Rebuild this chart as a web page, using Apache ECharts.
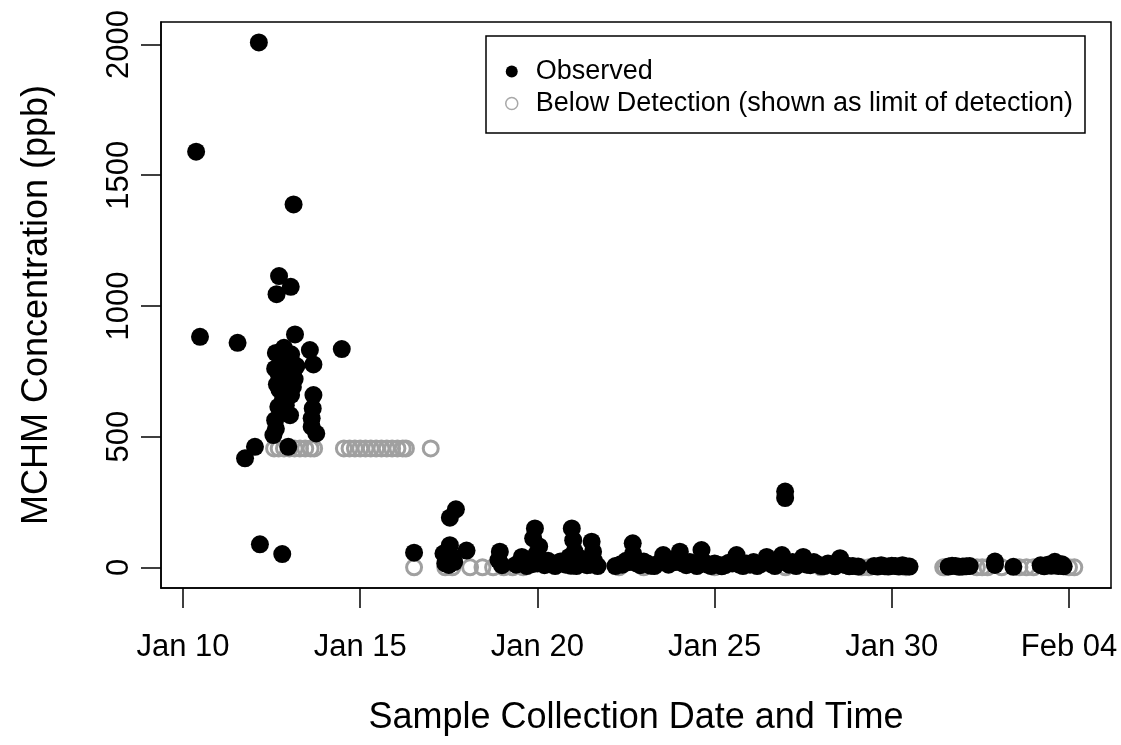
<!DOCTYPE html>
<html>
<head>
<meta charset="utf-8">
<script src="https://cdn.jsdelivr.net/npm/echarts@6.0.0/dist/echarts.min.js"></script>
<style>
  html, body { margin: 0; padding: 0; background: #fff; }
  #chart { width: 1121px; height: 745px; }
</style>
</head>
<body>
<div id="chart"></div>
<script>
// x = day of January 2014 (Feb 04 = 35), y = ppb
const tickDays = [10, 15, 20, 25, 30, 35];
const tickLabels = ['Jan 10', 'Jan 15', 'Jan 20', 'Jan 25', 'Jan 30', 'Feb 04'];
const yTicks = [0, 500, 1000, 1500, 2000];

// observed, first days
const observedEarly = [
  [10.37, 1590], [10.48, 882], [11.54, 859], [11.75, 417], [12.03, 461], [12.14, 2008],
  [12.17, 88], [12.8, 51], [12.71, 1114], [13.04, 1073], [12.64, 1045], [13.12, 1388],
  [13.16, 891], [14.48, 835], [13.58, 831], [13.68, 776],
  [12.62, 820], [12.75, 800], [12.85, 840], [12.95, 790], [12.6, 760], [12.7, 740],
  [12.8, 720], [12.9, 760], [13.0, 780], [13.1, 740], [13.2, 770], [12.65, 700],
  [12.85, 680], [13.0, 700], [13.1, 690], [12.95, 650], [12.78, 770], [12.88, 805],
  [13.05, 815], [12.72, 680], [12.92, 720], [13.15, 720], [13.05, 660], [12.82, 640],
  [12.69, 614], [13.02, 582], [12.6, 563], [12.55, 506], [12.97, 461], [12.75, 600],
  [12.62, 530], [12.9, 620],
  [13.68, 659], [13.66, 608], [13.63, 570], [13.63, 538], [13.76, 512]
];
// observed, Jan 16 - Jan 22
const observedMid = [
  [16.52, 56], [17.53, 190], [17.70, 222], [17.53, 85], [18.0, 64], [17.35, 53],
  [17.45, 28], [17.5, 9], [17.6, 40], [17.4, 15], [17.65, 20],
  [18.94, 60], [18.9, 28], [19.0, 8], [19.93, 149], [19.88, 111], [19.56, 40], [19.98, 53],
  [20.97, 149], [21.01, 104], [21.53, 98], [21.57, 60],
  [19.4, 10], [19.55, 18], [19.7, 5], [19.85, 12], [20.0, 15], [20.1, 30], [20.2, 8],
  [20.35, 12], [20.5, 5], [20.65, 22], [20.8, 10], [20.95, 6], [21.1, 5], [21.25, 14],
  [21.3, 20], [21.4, 8], [21.5, 10], [21.6, 25], [21.7, 5], [20.3, 25], [20.6, 18],
  [21.2, 35], [19.8, 30], [20.9, 40], [21.05, 60], [20.05, 80]
];
// observed, Jan 22 - Feb 04
const observedLate = [
  [22.2, 5], [22.35, 12], [22.4, 10], [22.5, 25], [22.69, 92], [22.7, 53], [22.6, 20],
  [22.8, 15], [22.9, 8], [23.0, 22], [23.1, 15], [23.2, 6], [23.3, 5], [23.45, 18],
  [23.55, 47], [23.7, 10], [23.8, 25], [23.9, 20], [24.02, 60], [24.1, 15], [24.2, 8],
  [24.3, 20], [24.4, 12], [24.5, 5], [24.63, 66], [24.7, 20], [24.8, 10], [24.9, 5],
  [25.0, 15], [25.1, 10], [25.2, 4], [25.3, 8], [25.4, 18], [25.5, 15], [25.62, 47],
  [25.7, 10], [25.8, 5], [25.9, 15], [26.0, 10], [26.1, 20], [26.2, 5], [26.3, 12],
  [26.47, 40], [26.6, 12], [26.7, 5], [26.8, 18], [26.9, 47], [26.99, 265], [26.99, 290],
  [27.1, 10], [27.2, 20], [27.3, 5], [27.4, 15], [27.5, 40], [27.6, 10], [27.7, 8],
  [27.8, 20], [27.9, 12], [28.0, 5], [28.1, 5], [28.2, 15], [28.3, 10], [28.4, 4],
  [28.54, 35], [28.6, 12], [28.7, 8], [28.8, 4], [28.9, 5], [29.05, 3],
  [29.5, 5], [29.6, 3], [29.7, 8], [29.8, 4], [29.9, 3], [30.0, 6], [30.1, 5],
  [30.2, 3], [30.3, 8], [30.4, 4], [30.5, 3],
  [31.6, 3], [31.7, 6], [31.8, 5], [31.9, 2], [32.0, 3], [32.1, 4], [32.2, 5],
  [32.91, 9], [32.91, 22], [33.43, 2],
  [34.2, 8], [34.3, 4], [34.4, 10], [34.5, 6], [34.6, 21], [34.7, 5], [34.8, 12], [34.85, 4]
];
// below detection, plotted at the detection limit
const belowHigh = [
  [12.57, 455], [12.7, 455], [12.85, 455], [13.0, 455], [13.15, 455], [13.3, 455],
  [13.45, 455], [13.6, 455], [13.7, 455],
  [14.54, 455], [14.7, 455], [14.85, 455], [15.0, 455], [15.15, 455], [15.3, 455],
  [15.45, 455], [15.6, 455], [15.75, 455], [15.9, 455], [16.05, 455], [16.2, 455],
  [16.29, 455], [16.99, 455]
];
const belowLow = [
  [16.52, 0], [17.4, 0], [17.6, 0], [18.1, 0], [18.45, 0], [18.75, 0], [19.05, 0],
  [19.3, 0], [19.6, 0], [22.3, 0], [23.0, 0], [25.0, 0], [27.0, 0], [28.0, 0],
  [29.15, 0], [29.35, 0], [30.4, 0], [31.45, 0], [31.5, 0], [32.4, 0], [32.55, 0],
  [32.7, 0], [33.1, 0], [33.6, 0], [33.8, 0], [34.0, 0], [35.0, 0], [35.15, 0]
];

const font = 'Liberation Sans, Arial, Helvetica, sans-serif';
const myChart = echarts.init(document.getElementById('chart'));
const option = {
  backgroundColor: '#fff',
  animation: false,
  textStyle: { fontFamily: font, color: '#000' },
  grid: {
    left: 161, right: 10, top: 22, bottom: 157,
    show: true, borderColor: '#000', borderWidth: 1.5,
    outerBoundsMode: 'none'
  },
  legend: {
    left: 486, top: 36,
    orient: 'vertical',
    padding: [22, 12, 16, 19],
    itemGap: 5,
    itemWidth: 38, itemHeight: 12,
    borderColor: '#000', borderWidth: 1.5,
    textStyle: { fontSize: 27, color: '#000', fontFamily: font },
    data: [
      { name: 'Observed', icon: 'circle', itemStyle: { color: '#000', borderWidth: 0, opacity: 1 } },
      { name: 'Below Detection (shown as limit of detection)', icon: 'circle',
        itemStyle: { color: 'rgba(0,0,0,0)', borderColor: '#a8a8a8', borderWidth: 1.5, opacity: 1 } }
    ]
  },
  xAxis: {
    type: 'value',
    min: 9.379, max: 36.185,
    name: 'Sample Collection Date and Time',
    nameLocation: 'middle', nameGap: 112,
    nameTextStyle: { fontSize: 36, color: '#000', fontFamily: font },
    axisLine: { show: true, onZero: false, lineStyle: { color: '#000', width: 1.5 } },
    axisTick: { show: true, length: 20, lineStyle: { color: '#000', width: 1.5 }, customValues: tickDays },
    axisLabel: {
      fontSize: 31, color: '#000', margin: 44, customValues: tickDays,
      formatter: (v) => tickLabels[tickDays.indexOf(v)]
    },
    splitLine: { show: false }
  },
  yAxis: {
    type: 'value',
    min: -79, max: 2086,
    name: 'MCHM Concentration (ppb)',
    nameLocation: 'middle', nameGap: 106, nameRotate: 90,
    nameTextStyle: { fontSize: 36, color: '#000', fontFamily: font },
    axisLine: { show: true, onZero: false, lineStyle: { color: '#000', width: 1.5 } },
    axisTick: { show: true, length: 20, lineStyle: { color: '#000', width: 1.5 }, customValues: yTicks },
    axisLabel: {
      fontSize: 31, color: '#000', margin: 26, rotate: 90, customValues: yTicks,
      formatter: (v) => String(v)
    },
    splitLine: { show: false }
  },
  series: [
    {
      name: 'Below Detection (shown as limit of detection)',
      type: 'scatter',
      symbol: 'circle', symbolSize: 15,
      itemStyle: { color: 'rgba(0,0,0,0)', borderColor: '#a0a0a0', borderWidth: 3, opacity: 1 },
      data: belowHigh.concat(belowLow)
    },
    {
      name: 'Observed',
      type: 'scatter',
      symbol: 'circle', symbolSize: 18,
      itemStyle: { color: '#000', opacity: 1 },
      data: observedEarly.concat(observedMid, observedLate)
    }
  ]
};
myChart.setOption(option);
</script>
</body>
</html>
